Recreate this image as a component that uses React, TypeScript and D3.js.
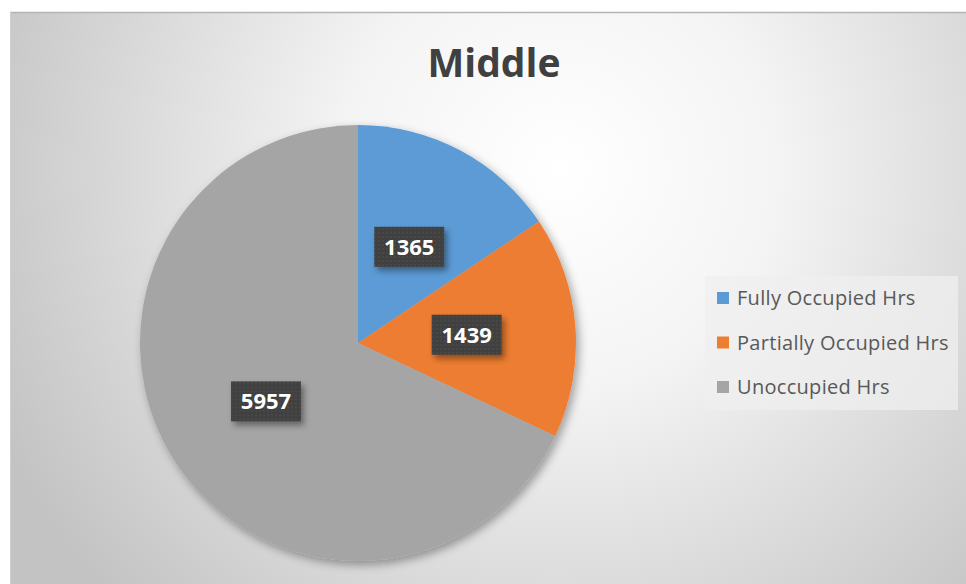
import React from "react";
import * as d3 from "d3";

const categories = ["Fully Occupied Hrs", "Partially Occupied Hrs", "Unoccupied Hrs"];
const values = [1365, 1439, 5957];
const colors = ["#5B9BD5", "#ED7D31", "#A5A5A5"];
const title = "Middle";

const W = 966;
const H = 584;

export default function App() {
  const cx = 358;
  const cy = 343;
  const r = 218;
  const pie = d3.pie<number>().sort(null).value((d) => d)(values);
  const arc = d3.arc<d3.PieArcDatum<number>>().innerRadius(0).outerRadius(r);
  const legendY = d3.scalePoint<string>().domain(categories).range([298, 387]);
  const font = "'Open Sans', 'DejaVu Sans', sans-serif";

  return (
    <svg
      width={W}
      height={H}
      style={{ position: "absolute", left: 0, top: 0, display: "block" }}
    >
      <defs>
        <radialGradient id="bg" gradientUnits="userSpaceOnUse" cx={560} cy={170} r={620}>
          <stop offset="0" stopColor="#ffffff" />
          <stop offset="0.35" stopColor="#f4f4f4" />
          <stop offset="1" stopColor="#c3c3c3" />
        </radialGradient>
        <filter id="pieShadow" x="-20%" y="-20%" width="140%" height="140%">
          <feDropShadow dx="3" dy="4" stdDeviation="5" floodColor="#000" floodOpacity="0.35" />
        </filter>
        <filter id="boxShadow" x="-30%" y="-30%" width="160%" height="170%">
          <feDropShadow dx="3" dy="4" stdDeviation="3" floodColor="#000" floodOpacity="0.4" />
        </filter>
        <pattern id="dots" width="4" height="4" patternUnits="userSpaceOnUse">
          <rect width="4" height="4" fill="#3f3f3f" />
          <circle cx="2" cy="2" r="0.8" fill="#555555" />
        </pattern>
      </defs>
      <rect x={0} y={0} width={W} height={H} fill="#ffffff" />
      <rect x={10} y={12} width={W - 10} height={H - 12} fill="url(#bg)" />
      <line x1={10} x2={W} y1={12.5} y2={12.5} stroke="#b4b4b4" strokeWidth={1.5} />
      <line x1={10.5} x2={10.5} y1={12} y2={H} stroke="#d0d0d0" strokeWidth={1} />

      <text
        x={494}
        y={77}
        textAnchor="middle"
        fontFamily={font}
        fontWeight="bold"
        fontSize={39}
        fill="#404040"
      >
        {title}
      </text>

      <g transform={`translate(${cx},${cy})`}>
        <g filter="url(#pieShadow)">
          {pie.map((p, i) => (
            <path key={i} d={arc(p) || ""} fill={colors[i]} />
          ))}
        </g>
        {pie.map((p, i) => {
          const [lx, ly] = arc.centroid(p);
          return (
            <g key={"l" + i} transform={`translate(${lx},${ly})`}>
              <rect
                x={-35}
                y={-20}
                width={70}
                height={40}
                fill="url(#dots)"
                filter="url(#boxShadow)"
              />
              <text
                x={0}
                y={8}
                textAnchor="middle"
                fontFamily={font}
                fontWeight="bold"
                fontSize={22}
                fill="#ffffff"
              >
                {values[i]}
              </text>
            </g>
          );
        })}
      </g>

      <rect x={705} y={276} width={253} height={134} fill="#efefef" opacity={0.75} />
      {categories.map((c, i) => {
        const y = legendY(c) as number;
        return (
          <g key={c}>
            <rect x={717} y={y - 6} width={12} height={12} fill={colors[i]} />
            <text
              x={737}
              y={y + 7}
              fontFamily={font}
              fontSize={20}
              letterSpacing={0.3}
              fill="#595959"
            >
              {c}
            </text>
          </g>
        );
      })}
    </svg>
  );
}
